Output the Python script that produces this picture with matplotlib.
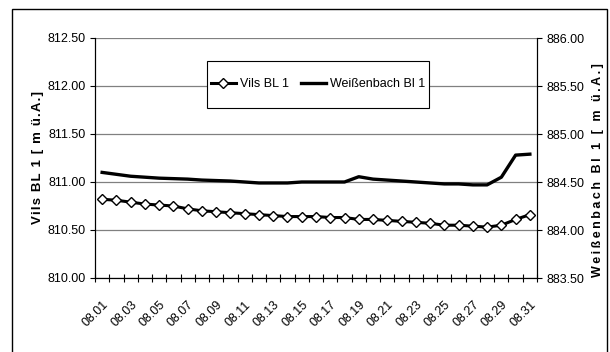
import matplotlib
matplotlib.use("Agg")
import matplotlib.pyplot as plt
from matplotlib.lines import Line2D
from matplotlib.patches import Rectangle
from matplotlib.ticker import MultipleLocator, FormatStrFormatter

days = ["08.01", "08.02", "08.03", "08.04", "08.05", "08.06", "08.07", "08.08",
        "08.09", "08.10", "08.11", "08.12", "08.13", "08.14", "08.15", "08.16",
        "08.17", "08.18", "08.19", "08.20", "08.21", "08.22", "08.23", "08.24",
        "08.25", "08.26", "08.27", "08.28", "08.29", "08.30", "08.31"]

# Wasserstand in m ü.A.
vils = [810.82, 810.81, 810.79, 810.77, 810.76, 810.75, 810.72, 810.70,
        810.69, 810.68, 810.67, 810.66, 810.65, 810.64, 810.64, 810.64,
        810.63, 810.63, 810.61, 810.61, 810.60, 810.59, 810.58, 810.57,
        810.55, 810.55, 810.54, 810.53, 810.55, 810.61, 810.66]
weissenbach = [884.60, 884.58, 884.56, 884.55, 884.54, 884.535, 884.53, 884.52,
               884.515, 884.51, 884.50, 884.49, 884.49, 884.49, 884.50, 884.50,
               884.50, 884.50, 884.555, 884.53, 884.52, 884.51, 884.50, 884.49,
               884.48, 884.48, 884.47, 884.47, 884.55, 884.78, 884.79]

left_label = "Vils BL 1 [ m ü.A.]"
right_label = "Weißenbach Bl 1 [ m ü.A.]"

plt.rcParams['font.family'] = ['Liberation Sans', 'DejaVu Sans']
plt.rcParams['font.size'] = 9


def spaced(s, gap="\u200a"):
    # Excel-style letter spacing for the axis titles
    return gap.join(s)


W, H = 610, 352
fig = plt.figure(figsize=(W / 100, H / 100), dpi=100)
ax = fig.add_axes([95 / W, 1 - 278 / H, (537 - 95) / W, 240 / H])
ax2 = ax.twinx()

x = list(range(len(days)))
ax.plot(x, vils, color='black', lw=2.2, marker='D', ms=5, mfc='white',
        mec='black', mew=1.0, zorder=3)
ax2.plot(x, weissenbach, color='black', lw=2.4, zorder=3)

ax.set_xlim(-0.5, len(days) - 0.5)
ax.set_ylim(810.0, 812.5)
ax2.set_ylim(883.5, 886.0)
for a in (ax, ax2):
    a.yaxis.set_major_locator(MultipleLocator(0.5))
    a.yaxis.set_major_formatter(FormatStrFormatter('%.2f'))
    a.tick_params(axis='y', direction='out', length=3.5, width=0.8, pad=3, labelsize=9)
    a.spines['top'].set_visible(False)
    for sp in a.spines.values():
        sp.set_linewidth(0.8)

ax.grid(axis='y', color='#808080', lw=0.9)

# day labels on every second category, tick marks between the categories
ax.set_xticks(x[::2])
ax.set_xticklabels(days[::2], rotation=45, ha='right', va='top', rotation_mode='anchor')
ax.tick_params(axis='x', which='major', length=0, pad=15, labelsize=9)
ax.set_xticks([i - 0.5 for i in range(len(days) + 1)], minor=True)
ax.tick_params(axis='x', which='minor', direction='inout', length=6, width=0.8)

# legend box
ax2.add_patch(Rectangle((207 / W, 1 - 108 / H), 222 / W, 47 / H, transform=fig.transFigure,
                        facecolor='white', edgecolor='black', lw=0.8, zorder=5, clip_on=False))
handles = [Line2D([], [], color='black', lw=2.2, marker='D', ms=5, mfc='white', mec='black', mew=1.0),
           Line2D([], [], color='black', lw=2.4)]
fig.legend(handles, ["Vils BL 1", "Weißenbach Bl 1"], loc='center',
           bbox_to_anchor=(318 / W, 1 - 84 / H), ncol=2, frameon=False,
           handlelength=2.0, handletextpad=0.3, columnspacing=1.0, fontsize=9)

fig.text(38 / W, 1 - 157 / H, spaced(left_label), rotation=90, ha='center', va='center',
         fontsize=9.5, fontweight='bold')
fig.text(598 / W, 1 - 170 / H, spaced(right_label, "\u2009"), rotation=90, ha='center', va='center',
         fontsize=9, fontweight='bold')

# outer chart border
fig.patches.append(Rectangle((12 / W, -0.02), 595 / W, 1.02 - 9 / H, transform=fig.transFigure,
                             fill=False, edgecolor='black', lw=1.0))

fig.savefig("out.png", dpi=100)
